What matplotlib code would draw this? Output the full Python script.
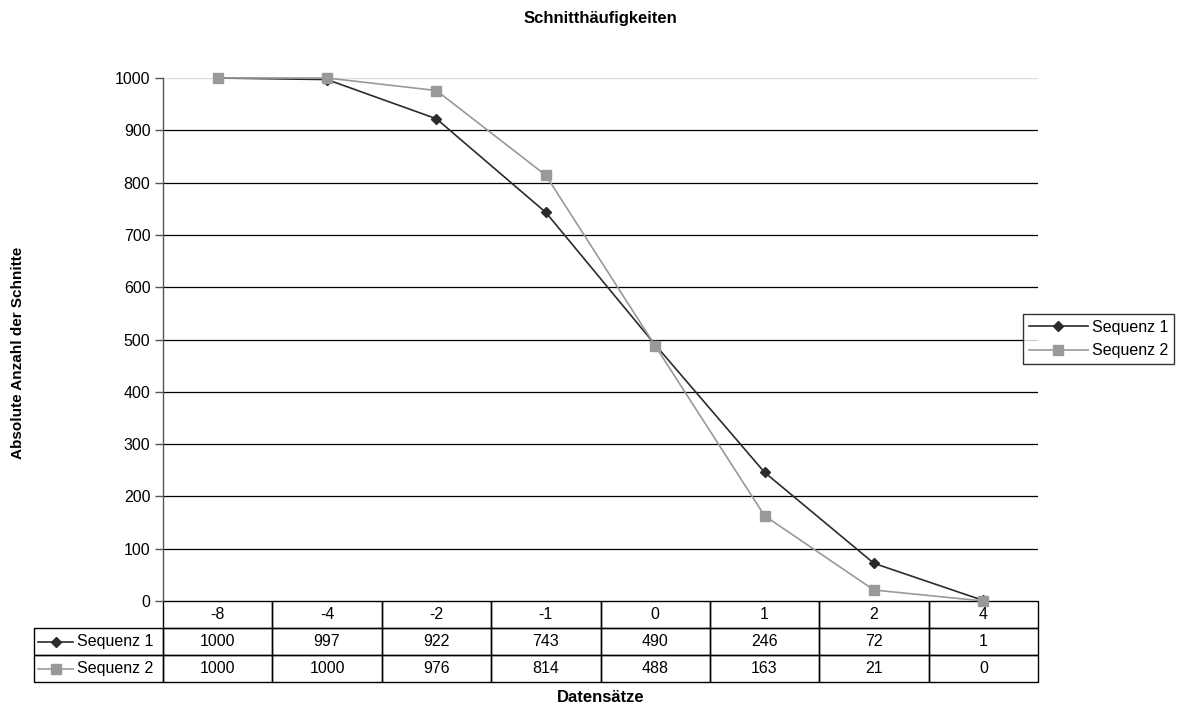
import matplotlib.pyplot as plt
from matplotlib.lines import Line2D

plt.rcParams['font.family'] = ['Liberation Sans', 'DejaVu Sans']

# Data
categories = ['-8', '-4', '-2', '-1', '0', '1', '2', '4']
seq1 = [1000, 997, 922, 743, 490, 246, 72, 1]
seq2 = [1000, 1000, 976, 814, 488, 163, 21, 0]
series_names = ['Sequenz 1', 'Sequenz 2']
yticks = [0, 100, 200, 300, 400, 500, 600, 700, 800, 900, 1000]

c1 = '#2b2b2b'
c2 = '#999999'
fs = 11.5

fig = plt.figure(figsize=(11.82, 7.07), dpi=100)
W, H = 1182, 707
left, right, top, bottom = 163, 1038, 78, 601
ax = fig.add_axes([left / W, 1 - bottom / H, (right - left) / W, (bottom - top) / H])

x = list(range(len(categories)))

# gridlines
for y in yticks[1:]:
    ax.axhline(y, color='#dddddd' if y == 1000 else 'black', lw=0.9, zorder=1)

# Sequenz 2 is drawn on top of Sequenz 1
ax.plot(x, seq1, color=c1, lw=1.2, marker='D', ms=5.5, zorder=2, clip_on=False)
ax.plot(x, seq2, color=c2, lw=1.2, marker='s', ms=6.5, zorder=3, clip_on=False)

ax.set_xlim(-0.5, len(categories) - 0.5)
ax.set_ylim(0, 1000)
ax.set_yticks(yticks)
ax.set_xticks([])
ax.tick_params(axis='y', direction='out', length=6, width=1, labelsize=fs, pad=3,
               color='#555555')
for s in ['top', 'right', 'bottom']:
    ax.spines[s].set_visible(False)
ax.spines['left'].set_linewidth(1)
ax.spines['left'].set_color('#555555')

# table
ph = bottom - top
pw = right - left
tx0 = 34
tbl_h = 81
cell_text = [[''] + categories,
             [''] + [str(v) for v in seq1],
             [''] + [str(v) for v in seq2]]
col_w = [(left - tx0) / (right - tx0)] + [pw / len(categories) / (right - tx0)] * len(categories)
tbl = ax.table(cellText=cell_text, cellLoc='center', colWidths=col_w,
               bbox=[(tx0 - left) / pw, -tbl_h / ph, (right - tx0) / pw, tbl_h / ph])
tbl.auto_set_font_size(False)
tbl.set_fontsize(fs)
for (r, c), cell in tbl.get_celld().items():
    cell.set_linewidth(1)
    cell.set_edgecolor('black')
    cell.set_facecolor('none')
tbl[(0, 0)].visible_edges = ''

# row labels with legend keys
row_h = tbl_h / 3
for i, (name, col, mk, ms) in enumerate([(series_names[0], c1, 'D', 5), (series_names[1], c2, 's', 6.5)]):
    yc = bottom + row_h * (i + 1.5)
    yf = 1 - yc / H
    fig.add_artist(Line2D([38 / W, 73 / W], [yf, yf], color=col, lw=1.2))
    fig.add_artist(Line2D([55.5 / W], [yf], color=col, marker=mk, ms=ms, lw=0))
    fig.text(77 / W, yf, name, fontsize=fs, va='center', ha='left')

# legend
handles = [Line2D([], [], color=c1, lw=1.2, marker='D', ms=5),
           Line2D([], [], color=c2, lw=1.2, marker='s', ms=6.5)]
leg = fig.legend(handles, series_names, loc='center left',
                 bbox_to_anchor=(1023 / W, 1 - 339 / H), fontsize=fs,
                 frameon=True, fancybox=False, edgecolor='black',
                 handlelength=3.7, handletextpad=0.3, borderpad=0.35,
                 labelspacing=0.55, borderaxespad=0)
leg.get_frame().set_linewidth(1)

fig.text(0.5 * (left + right) / W, 1 - 18 / H, 'Schnitthäufigkeiten', ha='center', va='center',
         fontsize=12, fontweight='bold')
fig.text(0.5 * (left + right) / W, 1 - 697 / H, 'Datensätze', ha='center', va='center',
         fontsize=12, fontweight='bold')
fig.text(18 / W, 1 - 353 / H, 'Absolute Anzahl der Schnitte', ha='center', va='center',
         rotation=90, fontsize=11, fontweight='bold')

fig.savefig('out.png', dpi=100)
